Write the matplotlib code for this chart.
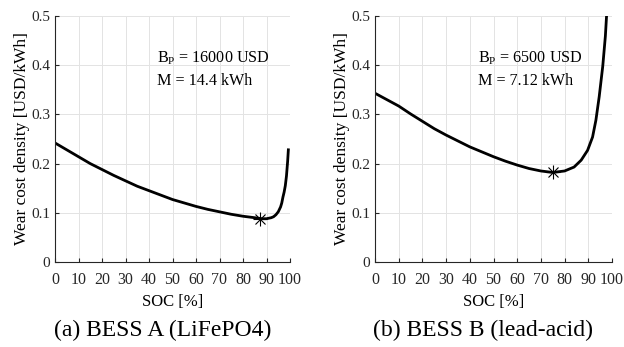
import numpy as np
import matplotlib.pyplot as plt

plt.rcParams['font.family'] = ['Liberation Serif', 'DejaVu Serif']
plt.rcParams['mathtext.fontset'] = 'custom'
plt.rcParams['mathtext.rm'] = 'Liberation Serif'

# BESS A (LiFePO4)
soc_a = [0, 5, 10, 15, 20, 25, 30, 35, 40, 45, 50, 55, 60, 65, 70, 75, 80,
         85, 88, 90, 92, 93, 94, 95, 96, 96.5, 97, 97.5, 98, 98.5, 99, 99.3]
cost_a = [0.242, 0.228, 0.214, 0.200, 0.188, 0.176, 0.165, 0.154, 0.145,
          0.136, 0.127, 0.120, 0.113, 0.107, 0.102, 0.097, 0.093, 0.090,
          0.088, 0.088, 0.090, 0.092, 0.096, 0.102, 0.112, 0.120, 0.132,
          0.142, 0.155, 0.175, 0.205, 0.228]
opt_a = (87.2, 0.088)

# BESS B (lead-acid)
soc_b = [0, 5, 10, 15, 20, 25, 30, 35, 40, 45, 50, 55, 60, 65, 70, 75, 80,
         84, 87, 89.7, 91.8, 93.2, 94.6, 96.1, 97.2, 97.7, 97.9]
cost_b = [0.343, 0.330, 0.317, 0.301, 0.286, 0.271, 0.258, 0.246, 0.234,
          0.224, 0.214, 0.205, 0.197, 0.190, 0.185, 0.182, 0.185, 0.193,
          0.207, 0.227, 0.254, 0.288, 0.336, 0.398, 0.459, 0.500, 0.520]
opt_b = (75, 0.182)

info = [(r'B$_\mathrm{P}$ = 16000 USD', 'M = 14.4 kWh'),
        (r'B$_\mathrm{P}$ = 6500 USD', 'M = 7.12 kWh')]
captions = ['(a) BESS A (LiFePO4)', '(b) BESS B (lead-acid)']

fig = plt.figure(figsize=(6.24, 3.47), dpi=100)
axes = [fig.add_axes([55/624, 1-262/347, 235/624, 246/347]),
        fig.add_axes([375/624, 1-262/347, 237/624, 246/347])]

data = [(soc_a, cost_a, opt_a), (soc_b, cost_b, opt_b)]
for i, ax in enumerate(axes):
    x, y, opt = data[i]
    ax.plot(x, y, color='black', lw=2.0, solid_joinstyle='round')
    # MATLAB-style asterisk marker at the optimum
    ax.plot([opt[0]], [opt[1]], marker='+', color='black', ms=10, mew=0.8)
    ax.plot([opt[0]], [opt[1]], marker='x', color='black', ms=7.5, mew=0.8)
    ax.set_xlim(0, 100)
    ax.set_ylim(0, 0.5)
    ax.set_xticks(range(0, 101, 10))
    ax.set_yticks([0, 0.1, 0.2, 0.3, 0.4, 0.5])
    ax.set_yticklabels(['0', '0.1', '0.2', '0.3', '0.4', '0.5'])
    ax.grid(True, color='#e3e3e3', lw=0.7)
    ax.set_axisbelow(True)
    for s in ['top', 'right']:
        ax.spines[s].set_visible(False)
    for s in ['left', 'bottom']:
        ax.spines[s].set_color('#262626')
        ax.spines[s].set_linewidth(0.8)
    ax.tick_params(direction='in', length=3, width=0.8, colors='#262626',
                   labelsize=11.5)
    ax.tick_params(axis='x', pad=7)
    ax.tick_params(axis='y', labelsize=11, pad=3.5)
    ax.set_xlabel('SOC [%]', fontsize=12)
    ax.xaxis.set_label_coords(0.5, -0.13)
    ax.set_ylabel('Wear cost density [USD/kWh]', fontsize=12.5)
    ax.yaxis.set_label_coords(-0.105, 0.5)
    ax.text(43.5, 0.414, info[i][0], fontsize=11.6, va='center', ha='left')
    ax.text(43.5, 0.367, info[i][1], fontsize=11.6, va='center', ha='left')
    ax.text(0.457, -0.278, captions[i], transform=ax.transAxes, ha='center',
            va='center', fontsize=17)

fig.savefig('out.png', dpi=100)
